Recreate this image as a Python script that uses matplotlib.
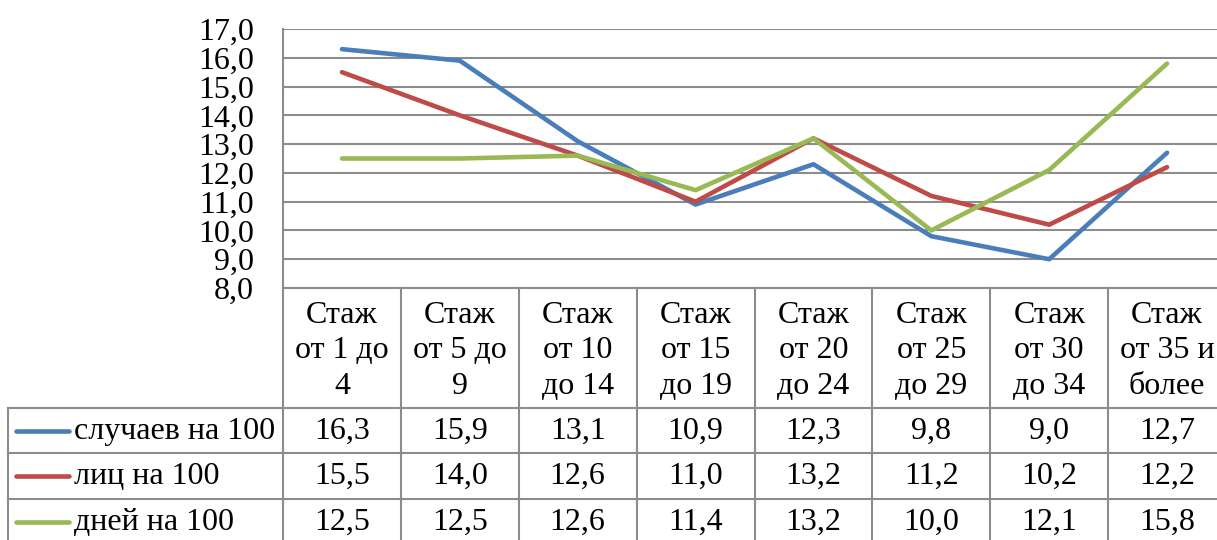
import matplotlib
matplotlib.use("Agg")
import matplotlib.pyplot as plt
from matplotlib.transforms import blended_transform_factory
from matplotlib.ticker import FuncFormatter

categories = ["Стаж\nот 1 до\n4", "Стаж\nот 5 до\n9", "Стаж\nот 10\nдо 14", "Стаж\nот 15\nдо 19",
              "Стаж\nот 20\nдо 24", "Стаж\nот 25\nдо 29", "Стаж\nот 30\nдо 34", "Стаж\nот 35 и\nболее"]
series_names = ["случаев на 100", "лиц на 100", "дней на 100"]
cases = [16.3, 15.9, 13.1, 10.9, 12.3, 9.8, 9.0, 12.7]
persons = [15.5, 14.0, 12.6, 11.0, 13.2, 11.2, 10.2, 12.2]
days = [12.5, 12.5, 12.6, 11.4, 13.2, 10.0, 12.1, 15.8]
colors = ["#4A7EBB", "#BE4B48", "#98B954"]

plt.rcParams['font.family'] = 'serif'
plt.rcParams['font.serif'] = ['Liberation Serif']
FS = 23
W, H = 1217, 540
fig = plt.figure(figsize=(W / 100, H / 100), dpi=100)

def fy(py):
    return 1 - py / H

ax_left, ax_right = 283, 1226
ax_top, ax_bot = 29, 288
ax = fig.add_axes([ax_left / W, fy(ax_bot), (ax_right - ax_left) / W, (ax_bot - ax_top) / H])
n = len(categories)
ax.set_xlim(-0.5, n - 0.5)
ax.set_ylim(8, 17)
ax.set_yticks(range(8, 18))
ax.yaxis.set_major_formatter(FuncFormatter(lambda v, p: f"{v:.1f}".replace(".", ",")))
ax.tick_params(axis='y', length=0, labelsize=FS, pad=21)
ax.tick_params(axis='x', length=0, labelbottom=False)
grid_c = "#8C8C8C"
ax.grid(axis='y', color=grid_c, linewidth=1.5)
ax.set_axisbelow(True)
for s in ["top", "right", "bottom"]:
    ax.spines[s].set_visible(False)
ax.spines["left"].set_color(grid_c)
ax.spines["left"].set_linewidth(1.5)

data = [cases, persons, days]
xs = list(range(n))
for vals, c in zip(data, colors):
    ax.plot(xs, vals, color=c, linewidth=3.3, solid_capstyle='round', solid_joinstyle='round', zorder=3)

# table
tr = blended_transform_factory(ax.transData, fig.transFigure)
trf = fig.transFigure
lw = 1.5
row_y = [408, 453, 499]
ax.plot([-0.5, n - 0.5], [fy(288), fy(288)], transform=tr, color=grid_c, lw=lw, clip_on=False)
for yy in row_y:
    fig.add_artist(plt.Line2D([8 / W, 1.01], [fy(yy), fy(yy)], transform=trf, color=grid_c, lw=lw))
fig.add_artist(plt.Line2D([8 / W, 8 / W], [fy(408), fy(545)], transform=trf, color=grid_c, lw=lw))
fig.add_artist(plt.Line2D([ax_left / W, ax_left / W], [fy(288), fy(545)], transform=trf, color=grid_c, lw=lw))
for k in range(1, n + 1):
    ax.plot([k - 0.5, k - 0.5], [fy(288), fy(545)], transform=tr, color=grid_c, lw=lw, clip_on=False)

for i, cat in enumerate(categories):
    ax.text(i, fy(351), cat, transform=tr, ha='center', va='center', fontsize=FS, linespacing=1.28)

row_centers = [431, 476, 522]
for r, (name, vals, c) in enumerate(zip(series_names, data, colors)):
    yc = fy(row_centers[r])
    fig.add_artist(plt.Line2D([16 / W, 69 / W], [yc, yc], transform=trf, color=c, lw=3.3, solid_capstyle='round'))
    fig.text(74 / W, yc, name, ha='left', va='center', fontsize=FS)
    for i, v in enumerate(vals):
        ax.text(i, yc, f"{v:.1f}".replace(".", ","), transform=tr, ha='center', va='center', fontsize=FS)

fig.savefig("out.png", dpi=100)
